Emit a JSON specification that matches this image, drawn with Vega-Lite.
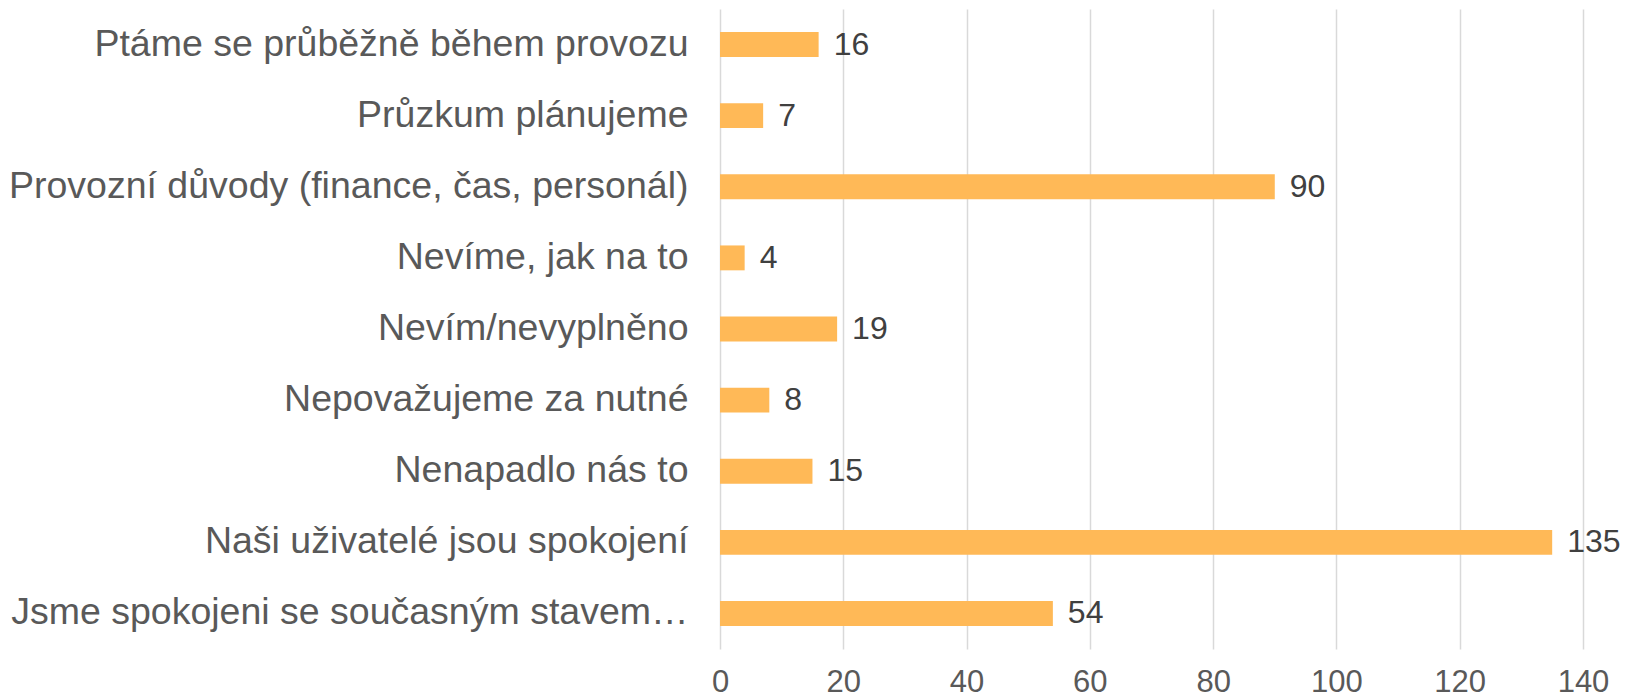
{
  "$schema": "https://vega.github.io/schema/vega-lite/v6.json",
  "width": 863,
  "height": 640,
  "autosize": {"type": "none"},
  "padding": {"left": 720, "top": 9, "right": 42, "bottom": 51},
  "background": "white",
  "config": {
    "view": {"stroke": null},
    "font": "Liberation Sans"
  },
  "data": {
    "values": [
      {"kategorie": "Ptáme se průběžně během provozu", "pocet": 16},
      {"kategorie": "Průzkum plánujeme", "pocet": 7},
      {"kategorie": "Provozní důvody (finance, čas, personál)", "pocet": 90},
      {"kategorie": "Nevíme, jak na to", "pocet": 4},
      {"kategorie": "Nevím/nevyplněno", "pocet": 19},
      {"kategorie": "Nepovažujeme za nutné", "pocet": 8},
      {"kategorie": "Nenapadlo nás to", "pocet": 15},
      {"kategorie": "Naši uživatelé jsou spokojení", "pocet": 135},
      {"kategorie": "Jsme spokojeni se současným stavem…", "pocet": 54}
    ]
  },
  "encoding": {
    "y": {
      "field": "kategorie",
      "type": "nominal",
      "sort": null,
      "scale": {"paddingInner": 0.65, "paddingOuter": 0.325},
      "axis": {
        "title": null,
        "domain": false,
        "ticks": false,
        "grid": false,
        "labelFont": "Liberation Sans",
        "labelFontSize": 37.5,
        "labelColor": "#595959",
        "labelPadding": 32,
        "labelLimit": 1000
      }
    },
    "x": {
      "field": "pocet",
      "type": "quantitative",
      "scale": {"domain": [0, 140], "nice": false},
      "axis": {
        "title": null,
        "values": [0, 20, 40, 60, 80, 100, 120, 140],
        "domain": false,
        "ticks": false,
        "grid": true,
        "gridColor": "#D9D9D9",
        "gridWidth": 1.5,
        "labelFont": "Liberation Sans",
        "labelFontSize": 31,
        "labelColor": "#595959",
        "labelPadding": 18,
        "labelFlush": false
      }
    }
  },
  "layer": [
    {
      "mark": {"type": "bar", "color": "#FFB957"}
    },
    {
      "mark": {
        "type": "text",
        "align": "left",
        "baseline": "middle",
        "dx": 15,
        "font": "Liberation Sans",
        "fontSize": 32,
        "color": "#404040"
      },
      "encoding": {"text": {"field": "pocet", "type": "quantitative"}}
    }
  ]
}
